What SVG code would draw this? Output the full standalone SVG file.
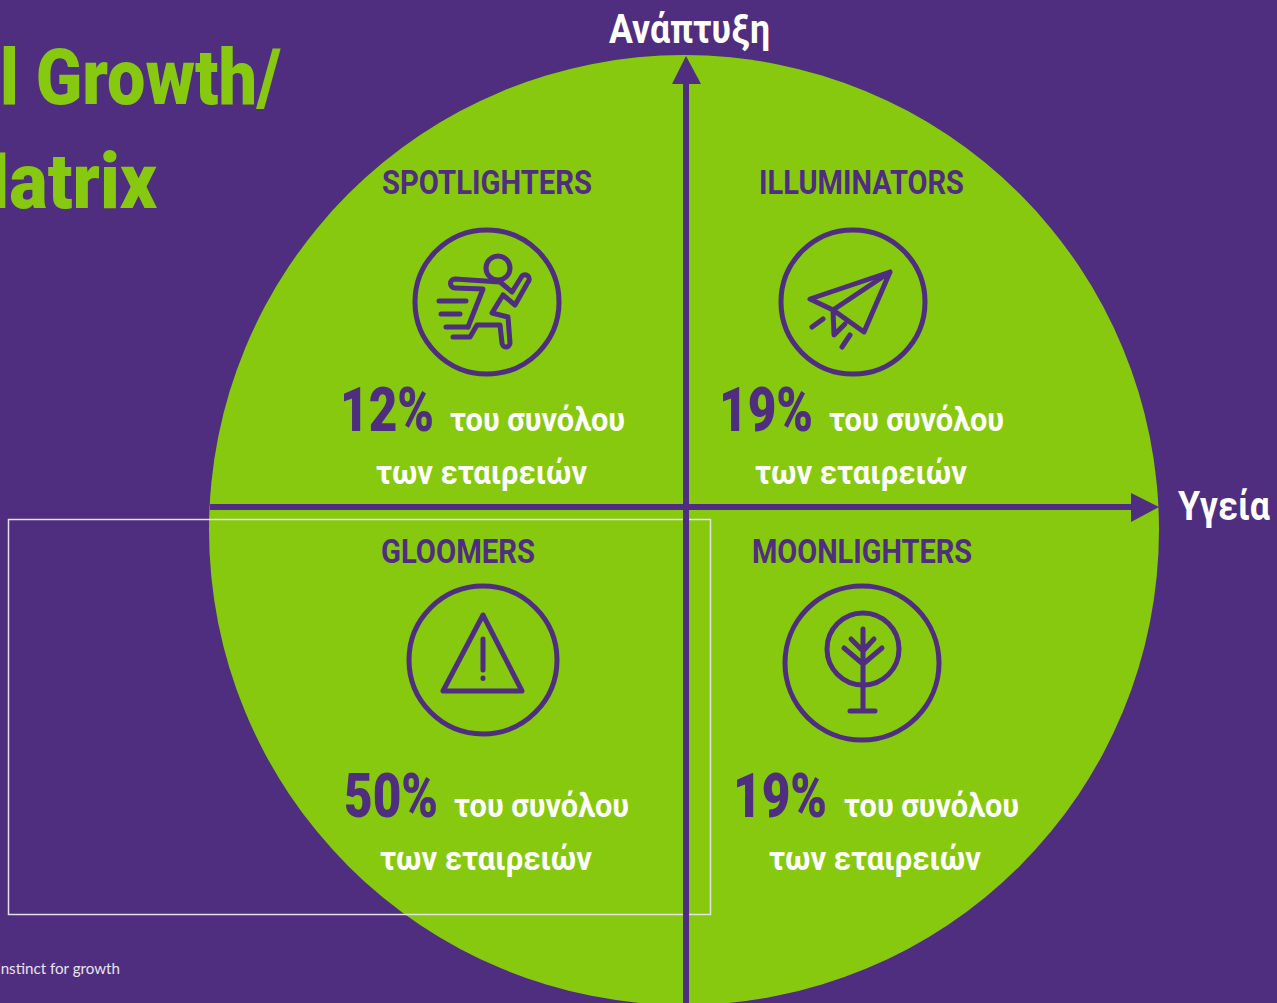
<svg xmlns="http://www.w3.org/2000/svg" width="1277" height="1003" viewBox="0 0 1277 1003">
<style>
text{font-family:Roboto,"Liberation Sans","Noto Sans",sans-serif;font-weight:700}
.title{fill:#87c90e;font-size:78px;font-weight:900}
.head{fill:#4f2d7f;font-size:33px}
.num{fill:#4f2d7f;font-size:61px;font-weight:900}
.w1{fill:#fff;font-size:34px}
.axis{fill:#fff;font-size:40px}
.ic{fill:none;stroke:#4f2d7f;stroke-width:5;stroke-linecap:round;stroke-linejoin:round}
.ax{fill:none;stroke:#4f2d7f;stroke-width:6}
.ah{fill:#4f2d7f}
</style>
<rect width="1277" height="1003" fill="#4f2d7f"/>
<circle id="disc" cx="684" cy="530" r="475" fill="#87c90e"/>
<g id="title">
<text class="title" x="0" y="104" textLength="281" lengthAdjust="spacingAndGlyphs">l Growth/</text>
<text class="title" x="-54" y="208" textLength="211" lengthAdjust="spacingAndGlyphs">Matrix</text>
</g>
<rect id="frame" x="8.5" y="519.5" width="702" height="395" fill="none" stroke="#e4e0ec" stroke-width="1.5"/>
<g id="connectors">
<path class="ax" d="M686 80V1003"/>
<path class="ah" d="M686 56L701 84H672Z"/>
<path class="ax" d="M210 507H1135"/>
<path class="ah" d="M1159 507L1131 493V522Z"/>
</g>
<g id="axis-growth"><text class="axis" x="609" y="43" textLength="161" lengthAdjust="spacingAndGlyphs">Ανάπτυξη</text></g>
<g id="axis-health"><text class="axis" x="1178" y="520" textLength="92" lengthAdjust="spacingAndGlyphs">Υγεία</text></g>
<g id="spotlighters">
<text class="head" x="382" y="194" textLength="210" lengthAdjust="spacingAndGlyphs">SPOTLIGHTERS</text>
<circle class="ic" cx="487" cy="302" r="72"/>
<circle class="ic" cx="498" cy="268" r="12"/>
<path class="ic" d="M500 282L455 279A4.500 4.500 0 0 0 455 288L483 289L468 327M453 337H470L477 325H500L502 343A4 4 0 0 0 510 343L508 317L492 313L503 295L515 305L528 282A4 4 0 0 0 522 276L512 292L500 282"/>
<path class="ic" d="M439 301H466M441 314H460M446 327H468"/>
<text class="num" x="340" y="431" textLength="94" lengthAdjust="spacingAndGlyphs">12%</text>
<text class="w1" x="450" y="431" textLength="175" lengthAdjust="spacingAndGlyphs">του συνόλου</text>
<text class="w1" x="376" y="484" textLength="211" lengthAdjust="spacingAndGlyphs">των εταιρειών</text>
</g>
<g id="illuminators">
<text class="head" x="759" y="194" textLength="205" lengthAdjust="spacingAndGlyphs">ILLUMINATORS</text>
<circle class="ic" cx="853" cy="302" r="72"/>
<path class="ic" d="M810 299L890 272L864 332L833 310ZM890 272L833 310L834 335L845 324M812 327L823 319M842 347L850 335"/>
<text class="num" x="719" y="431" textLength="94" lengthAdjust="spacingAndGlyphs">19%</text>
<text class="w1" x="829" y="431" textLength="175" lengthAdjust="spacingAndGlyphs">του συνόλου</text>
<text class="w1" x="755" y="484" textLength="212" lengthAdjust="spacingAndGlyphs">των εταιρειών</text>
</g>
<g id="gloomers">
<text class="head" x="381" y="563" textLength="154" lengthAdjust="spacingAndGlyphs">GLOOMERS</text>
<circle class="ic" cx="483" cy="660" r="74"/>
<path class="ic" d="M483 615L443 691H522ZM483 639V670M483 678V678.500"/>
<text class="num" x="344" y="817" textLength="94" lengthAdjust="spacingAndGlyphs">50%</text>
<text class="w1" x="454" y="817" textLength="175" lengthAdjust="spacingAndGlyphs">του συνόλου</text>
<text class="w1" x="380" y="870" textLength="212" lengthAdjust="spacingAndGlyphs">των εταιρειών</text>
</g>
<g id="moonlighters">
<text class="head" x="752" y="563" textLength="220" lengthAdjust="spacingAndGlyphs">MOONLIGHTERS</text>
<circle class="ic" cx="862" cy="663" r="77"/>
<circle class="ic" cx="863" cy="649" r="36"/>
<path class="ic" d="M863 629V711M850 711H875M844 648L863 664L882 648M851 639L863 651L874 639"/>
<text class="num" x="733" y="817" textLength="94" lengthAdjust="spacingAndGlyphs">19%</text>
<text class="w1" x="844" y="817" textLength="175" lengthAdjust="spacingAndGlyphs">του συνόλου</text>
<text class="w1" x="769" y="870" textLength="212" lengthAdjust="spacingAndGlyphs">των εταιρειών</text>
</g>
<g id="footer">
<text x="-3" y="974" fill="#e8e4f0" style="font-family:Lato,'Liberation Sans',sans-serif;font-weight:400;font-size:15px" textLength="123" lengthAdjust="spacingAndGlyphs">instinct for growth</text>
</g>
</svg>
